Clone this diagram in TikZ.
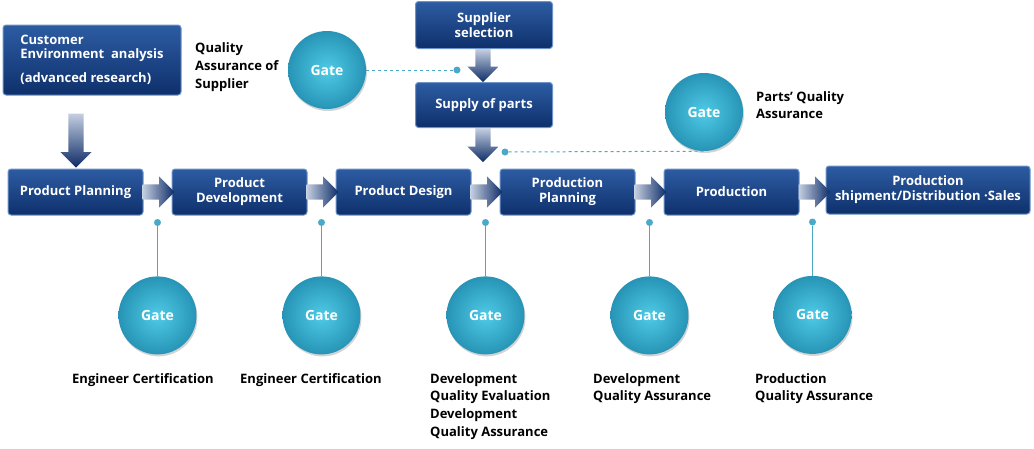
\documentclass[tikz,border=0pt]{standalone}
\usepackage{fontspec}
\setmainfont{Open Sans}
\usetikzlibrary{shapes.arrows, shadows, positioning, calc}
\definecolor{Box_Top}{HTML}{2D5CA3}
\definecolor{Box_Bottom}{HTML}{0E306B}
\definecolor{Box_Edge}{HTML}{6E93C8}
\definecolor{Arrow_Light}{HTML}{C3CEE0}
\definecolor{Arrow_Dark}{HTML}{0D2B66}
\definecolor{Gate_In}{HTML}{4FCBE6}
\definecolor{Gate_Out}{HTML}{2794B6}
\definecolor{Gate_Line}{HTML}{4AA9C6}

\begin{document}
\begin{tikzpicture}[x=1pt, y=-1pt,
    stage/.style={rectangle, rounded corners=3pt, draw=Box_Edge, line width=1pt,
        top color=Box_Top, bottom color=Box_Bottom, text=white, align=center,
        font=\bfseries\fontsize{13}{15}\selectfont, inner sep=2pt,
        minimum width=135pt, minimum height=46pt},
    gate/.style={circle, minimum size=78pt, inner color=Gate_In, outer color=Gate_Out,
        text=white, font=\bfseries\fontsize{14}{16}\selectfont,
        drop shadow={opacity=0.35, shadow xshift=1pt, shadow yshift=-2pt}},
    flow/.style={single arrow, draw=none, inner sep=7.5pt, minimum width=31pt,
        single arrow head extend=8pt, anchor=tail, left color=Arrow_Light, right color=Arrow_Dark},
    downflow/.style={single arrow, shape border rotate=270, draw=none, inner sep=7.5pt,
        minimum width=31pt, single arrow head extend=8pt, anchor=tail,
        top color=Arrow_Light, bottom color=Arrow_Dark},
    dot/.style={circle, fill=Gate_Line, inner sep=0pt, minimum size=7pt},
    link/.style={Gate_Line, line width=1.2pt},
    dashlink/.style={Gate_Line, line width=1pt, dashed},
    note/.style={font=\bfseries\fontsize{13}{17.7}\selectfont, align=left, anchor=north west, inner sep=0pt}]
    \useasboundingbox (0,0) rectangle (1034,448);

    % Top boxes
    \node[stage, minimum width=178pt, minimum height=70pt, align=left] (cust) at (92,60)
        {Customer\\[-1pt]Environment~ analysis\\[9pt](advanced research)};
    \node[stage, minimum width=137pt, minimum height=47pt] (sel) at (484,25) {Supplier\\selection};
    \node[stage, minimum width=137pt, minimum height=45pt] (supply) at (484,105) {Supply of parts};

    % Main stages
    \node[stage] (plan) at (75.5,192) {Product Planning};
    \node[stage] (dev) at (239.5,192) {Product\\Development};
    \node[stage] (design) at (403.5,192) {Product Design};
    \node[stage] (pplan) at (567.5,192) {Production\\Planning};
    \node[stage] (prod) at (731.5,192) {Production};
    \node[stage, minimum width=204pt, minimum height=48pt] (ship) at (928,190) {Production\\shipment/Distribution ·Sales};

    % Flow arrows
    \node[flow, minimum height=32pt] (f1) at ([xshift=-1pt]plan.east) {};
    \node[flow, minimum height=32pt] (f2) at ([xshift=-1pt]dev.east) {};
    \node[flow, minimum height=32pt] (f3) at ([xshift=-1pt]design.east) {};
    \node[flow, minimum height=32pt] (f4) at ([xshift=-1pt]pplan.east) {};
    \node[flow, minimum height=32pt] (f5) at ([xshift=-1pt]prod.east) {};
    \node[downflow, minimum height=54pt] (d0) at ([xshift=-16pt, yshift=-18pt]cust.south) {};
    \node[downflow, minimum height=33pt] (d1) at ([xshift=-1pt]sel.south) {};
    \node[downflow, minimum height=34pt] (d2) at ([xshift=-1pt]supply.south) {};

    % Supplier gates
    \node[gate] (qgate) at (327,70) {Gate};
    \node[dot] (qdot) at (457,70) {};
    \draw[dashlink] (qgate) -- (qdot);
    \node[note, font=\bfseries\fontsize{13}{18}\selectfont] (qnote) at (195,42) {Quality\\Assurance of\\Supplier};
    \node[gate] (pgate) at (704,112) {Gate};
    \node[dot] (pdot) at (505,152) {};
    \draw[dashlink] (pdot) -- (pgate.south);
    \node[note] (pnote) at (756,91) {Parts' Quality\\Assurance};

    % Stage gates
    \foreach \a/\b/\n in {plan/dev/1, dev/design/2, design/pplan/3, pplan/prod/4, prod/ship/5} {
        \node[dot] (dot\n) at ($(\a.south east)!0.5!(\b.south west)+(0,7)$) {};
        \node[gate, below=50pt of dot\n] (gate\n) {Gate};
        \draw[link] (dot\n) -- (gate\n);
    }
    \node[note] (note1) at (72,373) {Engineer Certification};
    \node[note] (note2) at (240,373) {Engineer Certification};
    \node[note] (note3) at (430,373) {Development\\Quality Evaluation\\Development\\Quality Assurance};
    \node[note] (note4) at (593,373) {Development\\Quality Assurance};
    \node[note] (note5) at (755,373) {Production\\Quality Assurance};
\end{tikzpicture}
\end{document}
